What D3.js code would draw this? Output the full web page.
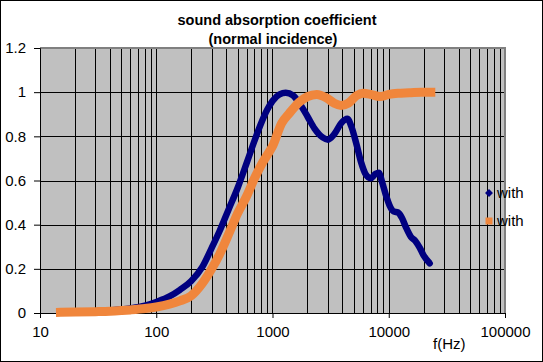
<!DOCTYPE html>
<html>
<head>
<meta charset="utf-8">
<script src="https://cdn.jsdelivr.net/npm/d3@7"></script>
<style>
  body { margin: 0; background: #fff; }
  text { font-family: "Liberation Sans", Arial, sans-serif; fill: #000; }
</style>
</head>
<body>
<div id="chart"></div>
<script>
/**
 * CONSTANTS AND GLOBALS
 * */
const width = 543,
  height = 362,
  margin = { top: 48, bottom: 49, left: 40, right: 38 };

// frequency (Hz) / absorption readings of the first "with" series (navy)
const blueFreq = [15, 20, 30, 40, 50, 60, 80, 100, 130, 160, 200, 250, 300, 350, 420, 500, 600, 700,
  800, 900, 1000, 1150, 1300, 1500, 1700, 2000, 2300, 2700, 3000, 3400, 3900, 4400, 4800, 5300, 5800,
  6300, 7000, 7700, 8200, 8800, 9500, 10200, 11000, 12000, 13000, 14000, 15500, 17000, 18500, 20000, 22500];
const blueAlpha = [0.004, 0.005, 0.008, 0.012, 0.016, 0.021, 0.033, 0.05, 0.075, 0.105, 0.145, 0.21, 0.295,
  0.37, 0.47, 0.565, 0.68, 0.78, 0.86, 0.92, 0.96, 0.99, 0.997, 0.985, 0.95, 0.89, 0.835, 0.795, 0.785,
  0.81, 0.86, 0.88, 0.84, 0.76, 0.68, 0.63, 0.61, 0.63, 0.635, 0.59, 0.53, 0.485, 0.46, 0.455, 0.43,
  0.39, 0.345, 0.325, 0.295, 0.26, 0.225];

// second "with" series (orange)
const orangeFreq = [15, 20, 30, 40, 50, 60, 80, 100, 130, 160, 200, 250, 300, 350, 430, 500, 600, 700,
  800, 900, 1000, 1200, 1400, 1700, 2000, 2400, 2900, 3400, 3900, 4500, 5300, 6000, 7000, 8400, 10000,
  12000, 15000, 19000, 23000];
const orangeAlpha = [0.003, 0.004, 0.006, 0.008, 0.011, 0.014, 0.02, 0.027, 0.04, 0.055, 0.078, 0.135,
  0.2, 0.265, 0.37, 0.45, 0.53, 0.61, 0.67, 0.715, 0.755, 0.86, 0.905, 0.955, 0.98, 0.99, 0.975, 0.95,
  0.94, 0.95, 0.985, 0.995, 0.99, 0.98, 0.99, 0.995, 0.997, 1.0, 1.0];

const xTicks = [10, 100, 1000, 10000, 100000];
const yTicks = [0, 0.2, 0.4, 0.6, 0.8, 1, 1.2];
const seriesNames = ["with", "with"];
const titleLines = ["sound absorption coefficient", "(normal incidence)"];

const blueData = blueFreq.map((f, i) => ({ f: f, a: blueAlpha[i] }));
const orangeData = orangeFreq.map((f, i) => ({ f: f, a: orangeAlpha[i] }));

// SCALES
const xScale = d3.scaleLog()
  .domain([10, 100000])
  .range([margin.left, width - margin.right]);

const yScale = d3.scaleLinear()
  .domain([0, 1.2])
  .range([height - margin.bottom, margin.top]);

const svg = d3.select("#chart")
  .append("svg")
  .attr("width", width)
  .attr("height", height);

// outer frame
svg.append("rect")
  .attr("x", 0.5).attr("y", 0.5)
  .attr("width", width - 1).attr("height", height - 1)
  .attr("fill", "#fff").attr("stroke", "#000");

// plot area
svg.append("rect")
  .attr("x", xScale(10)).attr("y", yScale(1.2))
  .attr("width", xScale(100000) - xScale(10))
  .attr("height", yScale(0) - yScale(1.2))
  .attr("fill", "#c0c0c0");

// grid lines (every 1..9 per decade)
const minor = [];
for (let d = 10; d < 100000; d *= 10) {
  for (let k = 1; k < 10; k++) minor.push(d * k);
}
svg.append("g")
  .selectAll("line")
  .data(minor.filter(v => v > 10))
  .join("line")
  .attr("x1", d => Math.round(xScale(d)) + 0.5)
  .attr("x2", d => Math.round(xScale(d)) + 0.5)
  .attr("y1", yScale(1.2))
  .attr("y2", yScale(0))
  .attr("stroke", "#000");

svg.append("g")
  .selectAll("line")
  .data(yTicks.filter(v => v > 0 && v < 1.2))
  .join("line")
  .attr("x1", xScale(10))
  .attr("x2", xScale(100000))
  .attr("y1", d => Math.round(yScale(d)) + 0.5)
  .attr("y2", d => Math.round(yScale(d)) + 0.5)
  .attr("stroke", "#000");

// grey border top / right
svg.append("path")
  .attr("d", `M${xScale(10)},${yScale(1.2)}H${xScale(100000)}V${yScale(0)}`)
  .attr("fill", "none")
  .attr("stroke", "#808080")
  .attr("stroke-width", 2);

// AXES
const xAxis = d3.axisBottom(xScale)
  .tickValues(xTicks)
  .tickFormat(d3.format("d"))
  .tickSize(5);

const yAxis = d3.axisLeft(yScale)
  .tickValues(yTicks)
  .tickFormat(d => d)
  .tickSize(6);

svg.append("g")
  .attr("class", "axis x-axis")
  .attr("transform", `translate(0,${yScale(0)})`)
  .call(xAxis)
  .call(g => g.selectAll("text").attr("font-size", 15).attr("dy", "1.05em").attr("y", 8));

svg.append("g")
  .attr("class", "axis y-axis")
  .attr("transform", `translate(${xScale(10)},0)`)
  .call(yAxis)
  .call(g => g.selectAll("text").attr("font-size", 15).attr("x", -14));

svg.selectAll(".axis path, .axis line").attr("stroke", "#000");
svg.selectAll(".axis text").attr("font-family", "'Liberation Sans', Arial, sans-serif").attr("fill", "#000");

// SERIES
const line = d3.line()
  .x(d => xScale(d.f))
  .y(d => yScale(d.a))
  .curve(d3.curveMonotoneX);

svg.append("path")
  .datum(blueData)
  .attr("d", line)
  .attr("fill", "none")
  .attr("stroke", "#000080")
  .attr("stroke-width", 6.5)
  .attr("stroke-linejoin", "round")
  .attr("stroke-linecap", "round");

svg.append("path")
  .datum(orangeData)
  .attr("d", line)
  .attr("fill", "none")
  .attr("stroke", "#f0863c")
  .attr("stroke-width", 9)
  .attr("stroke-linejoin", "round")
  .attr("stroke-linecap", "square");

// TITLE
svg.append("g")
  .selectAll("text")
  .data(titleLines)
  .join("text")
  .attr("x", (d, i) => i === 0 ? 277 : 273)
  .attr("y", (d, i) => 25 + i * 19)
  .attr("text-anchor", "middle")
  .attr("font-size", 14.5)
  .attr("font-weight", "bold")
  .text(d => d);

// axis title
svg.append("text")
  .attr("x", 433)
  .attr("y", 349)
  .attr("font-size", 15)
  .text("f(Hz)");

// LEGEND
const legend = svg.append("g");
legend.append("path")
  .attr("d", d3.symbol(d3.symbolDiamond2, 40)())
  .attr("transform", "translate(489,193)")
  .attr("fill", "#000080");
legend.append("rect")
  .attr("x", 485.5).attr("y", 217.5)
  .attr("width", 7).attr("height", 7)
  .attr("fill", "#f0863c");
legend.selectAll("text")
  .data(seriesNames)
  .join("text")
  .attr("x", 497)
  .attr("y", (d, i) => 198 + i * 28)
  .attr("font-size", 15)
  .text(d => d);
</script>
</body>
</html>
